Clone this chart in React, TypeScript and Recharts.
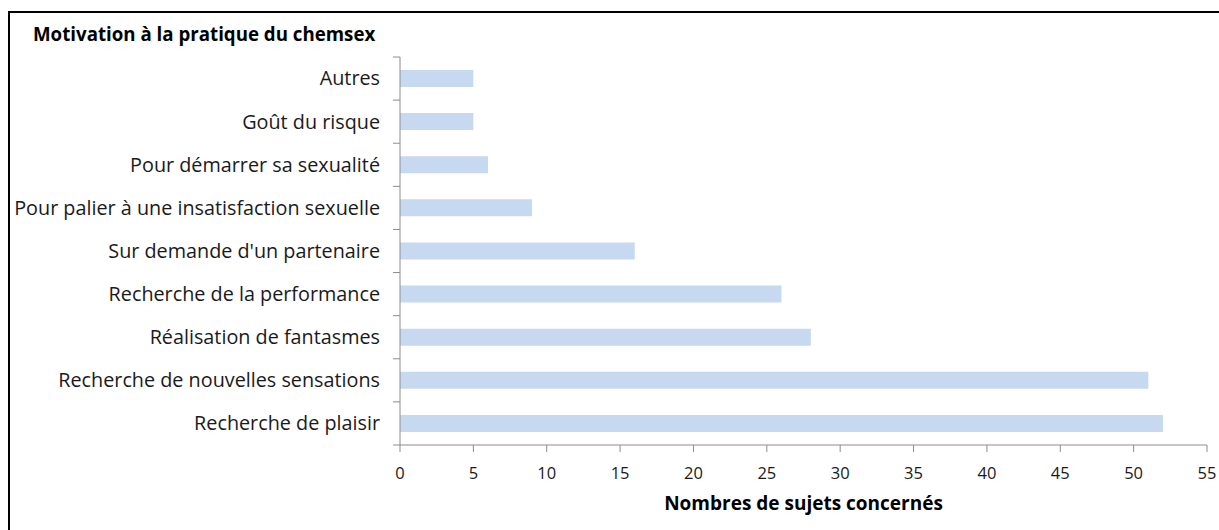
import { BarChart, Bar, XAxis, YAxis } from 'recharts';

const categories = [
  'Autres',
  'Goût du risque',
  'Pour démarrer sa sexualité',
  'Pour palier à une insatisfaction sexuelle',
  "Sur demande d'un partenaire",
  'Recherche de la performance',
  'Réalisation de fantasmes',
  'Recherche de nouvelles sensations',
  'Recherche de plaisir',
];
const counts = [5, 5, 6, 9, 16, 26, 28, 51, 52];
const xTicks = [0, 5, 10, 15, 20, 25, 30, 35, 40, 45, 50, 55];

const data = categories.map((name, i) => ({ name, value: counts[i] }));

const FONT = '"Open Sans", Lato, sans-serif';
const AXIS = '#8c8c8c';
const PLOT_TOP = 57;
const PLOT_BOTTOM = 445;
const BAND = (PLOT_BOTTOM - PLOT_TOP) / categories.length;

// category axis ticks sit on band edges, like the original
function CategoryTick(props: any) {
  const { x, y, payload, index } = props;
  const half = BAND / 2;
  return (
    <g>
      <line x1={x + 13} x2={x + 20} y1={y - half} y2={y - half} stroke={AXIS} />
      {index === categories.length - 1 && (
        <line x1={x + 13} x2={x + 20} y1={y + half} y2={y + half} stroke={AXIS} />
      )}
      <text x={x} y={y} dy="0.35em" textAnchor="end" fill="#1a1a1a" fontSize={19.8} fontFamily={FONT}>
        {payload.value}
      </text>
    </g>
  );
}

export default function App() {
  return (
    <div style={{ position: 'fixed', left: 0, top: 0, width: 1219, height: 530, overflow: 'hidden', background: '#fff' }}>
      <div
        style={{
          position: 'absolute',
          left: 8,
          top: 11,
          width: 1400,
          height: 700,
          borderLeft: '2px solid #000',
          borderTop: '2px solid #000',
        }}
      />
      <div
        style={{
          position: 'absolute',
          left: 33,
          top: 22,
          fontFamily: FONT,
          fontWeight: 'bold',
          fontSize: 18.7,
          lineHeight: '24px',
          color: '#000',
          whiteSpace: 'nowrap',
        }}
      >
        Motivation à la pratique du chemsex
      </div>
      <div style={{ position: 'absolute', left: 0, top: 0 }}>
        <BarChart
          width={1219}
          height={530}
          data={data}
          layout="vertical"
          margin={{ top: PLOT_TOP, right: 12, bottom: 0, left: 0 }}
          barSize={17}
        >
          <XAxis
            type="number"
            domain={[0, 55]}
            ticks={xTicks}
            interval={0}
            height={530 - PLOT_BOTTOM}
            axisLine={{ stroke: AXIS }}
            tickLine={{ stroke: AXIS }}
            tickSize={7}
            tickMargin={15}
            tick={{ fill: '#1a1a1a', fontSize: 16.5, fontFamily: FONT }}
            label={{
              value: 'Nombres de sujets concernés',
              position: 'insideBottom',
              offset: 20,
              fill: '#000',
              fontSize: 19,
              fontWeight: 'bold',
              fontFamily: FONT,
            }}
          />
          <YAxis
            type="category"
            dataKey="name"
            width={400}
            axisLine={{ stroke: AXIS }}
            tickLine={false}
            tickMargin={14}
            interval={0}
            tick={<CategoryTick />}
          />
          <Bar dataKey="value" fill="#C6D9F1" isAnimationActive={false} />
        </BarChart>
      </div>
    </div>
  );
}
